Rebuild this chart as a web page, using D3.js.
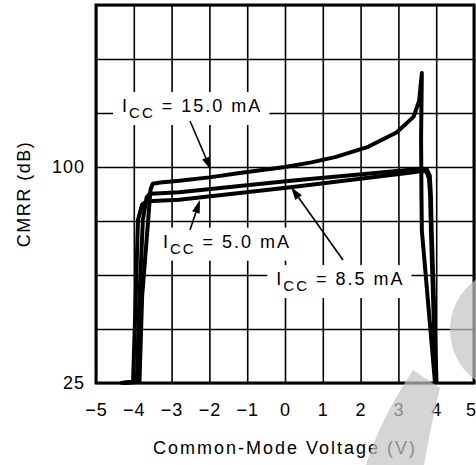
<!DOCTYPE html>
<html><head><meta charset="utf-8">
<script src="https://cdn.jsdelivr.net/npm/d3@7"></script>
<style>
html,body{margin:0;padding:0;background:#fff;}
svg{display:block;}
text{font-family:"Liberation Sans",Arial,sans-serif;fill:#000;}
</style></head>
<body>
<svg id="chart" width="476" height="465"></svg>
<script>
// ---- data ----
const xTicks = [-5,-4,-3,-2,-1,0,1,2,3,4,5];
const yGrid = [25,43.75,62.5,81.25,100,118.75,137.5,156.25];
const yLabels = [25,100];
const xTitle = "Common-Mode Voltage (V)";
const yTitle = "CMRR (dB)";

const icc15V  = [-4.25,-3.85,-3.78,-3.62,-3.56,-3.5,-3.3,-2.8,-2.0,-1.2,0,0.7,1.35,2.2,2.95,3.4,3.55,3.62,3.6,3.61,3.62,3.97];
const icc15dB = [25,25.4,55,81.6,92,94.2,94.6,95.2,96.4,97.9,100,101.6,103.5,107,112,117.4,123,132.6,110,90,78,25];

const icc85V  = [-4.3,-3.92,-3.85,-3.76,-3.66,-3.58,-3.3,-2.8,-1.2,0.15,3.4,3.6,3.75,3.83,3.86,3.88,4.01];
const icc85dB = [25,25.4,55,81.6,89.5,90.7,90.9,91.2,93.4,95.2,99.1,99.4,99.2,97,90,78,25];

const icc5V   = [-4.35,-4.02,-3.96,-3.89,-3.78,-3.65,-3.5,-2.8,-1.2,0.15,3.4,3.6,3.74,3.81,3.84,3.86,3.99];
const icc5dB  = [25,25.4,50,81.6,87,88.1,88.2,88.6,91,93,98.2,98.6,98.4,96,90,78,25];

const annotations = [
  {name:"15.0", textV:-4.31, textDB:119.1, tailV:-2.513, tailDB:115.97, headV:-1.958, headDB:98.96},
  {name:"5.0",  textV:-3.23, textDB:72.0,  tailV:-2.513, tailDB:78.1,   headV:-2.249, headDB:88.5},
  {name:"8.5",  textV:-0.23, textDB:59.0,  tailV:1.534,  tailDB:67.7,   headV:0.159,  headDB:93.06}
];

// ---- layout ----
const M = {left:96, top:5};
const W = 378, H = 378;
const svg = d3.select("#chart");
const g = svg.append("g").attr("transform",`translate(${M.left},${M.top})`);

const x = d3.scaleLinear().domain([-5,5]).range([0,W]);
const y = d3.scaleLinear().domain([25,156.25]).range([H,0]);

// grid + x labels
const xa = g.append("g").attr("transform",`translate(0,${H})`)
  .call(d3.axisBottom(x).tickValues(xTicks).tickSize(-H).tickPadding(20).tickFormat(d3.format("d")));
xa.select(".domain").remove();
xa.selectAll("line").attr("stroke","#000").attr("stroke-width",1.6);
xa.selectAll("text").attr("font-size",18).attr("letter-spacing","1px").attr("fill","#000");
xa.selectAll(".tick").filter(d => d === 5).select("text").attr("x",-3);

const ya = g.append("g")
  .call(d3.axisLeft(y).tickValues(yGrid).tickSize(-W).tickPadding(11)
    .tickFormat(d => yLabels.includes(d) ? d3.format("d")(d) : ""));
ya.select(".domain").remove();
ya.selectAll("line").attr("stroke","#000").attr("stroke-width",1.6);
ya.selectAll("text").attr("font-size",18).attr("letter-spacing","1px").attr("fill","#000");

// annotation label boxes (white, interrupt grid) and texts
const labelG = g.append("g");
const texts = annotations.map(a => {
  const t = labelG.append("text")
    .attr("x", x(a.textV)).attr("y", y(a.textDB))
    .attr("font-size",18).attr("letter-spacing","2px");
  t.append("tspan").text("I");
  t.append("tspan").attr("font-size",15).attr("dy",6).text("CC");
  t.append("tspan").attr("dy",-6).text(" =  " + a.name + " mA");
  return t;
});
texts.forEach(t => {
  const b = t.node().getBBox();
  labelG.insert("rect", "text")
    .attr("x", b.x - 9).attr("y", b.y - 4)
    .attr("width", b.width + 16).attr("height", b.height + 8)
    .attr("fill","#fff");
});

// curves
const line = d3.line().x(d => x(d[0])).y(d => y(d[1]));
const curves = [
  d3.zip(icc15V, icc15dB),
  d3.zip(icc85V, icc85dB),
  d3.zip(icc5V, icc5dB)
];
g.append("g").selectAll("path").data(curves).join("path")
  .attr("d", line).attr("fill","none").attr("stroke","#000")
  .attr("stroke-width",4).attr("stroke-linejoin","round").attr("stroke-linecap","butt");

// border
g.append("rect").attr("x",0).attr("y",0).attr("width",W).attr("height",H)
  .attr("fill","none").attr("stroke","#000").attr("stroke-width",3);

// arrows
annotations.forEach(a => {
  const x1 = x(a.tailV), y1 = y(a.tailDB), x2 = x(a.headV), y2 = y(a.headDB);
  const ang = Math.atan2(y2-y1, x2-x1);
  const L = 13, Wd = 4;
  const bx = x2 - L*Math.cos(ang), by = y2 - L*Math.sin(ang);
  g.append("line").attr("x1",x1).attr("y1",y1).attr("x2",bx).attr("y2",by)
    .attr("stroke","#000").attr("stroke-width",1.6);
  const px = -Math.sin(ang), py = Math.cos(ang);
  g.append("path")
    .attr("d",`M${x2},${y2}L${bx+px*Wd},${by+py*Wd}L${bx-px*Wd},${by-py*Wd}Z`)
    .attr("fill","#000");
});

// axis titles
svg.append("text").attr("x", M.left + W/2).attr("y", 454)
  .attr("text-anchor","middle").attr("font-size",18).attr("letter-spacing","2px").text(xTitle);
svg.append("text").attr("transform",`translate(30,${M.top + H/2}) rotate(-90)`)
  .attr("text-anchor","middle").attr("font-size",18).attr("letter-spacing","1.5px").text(yTitle);

// watermark overlay
const wm = svg.append("g").attr("fill","#c4c4c4").attr("opacity",0.7);
wm.append("circle").attr("cx",512).attr("cy",330).attr("r",62);
wm.append("path").attr("d","M413,370 L440,388 Q432,420 424,465 L366,465 Q380,420 413,370 Z");
</script>
</body></html>
